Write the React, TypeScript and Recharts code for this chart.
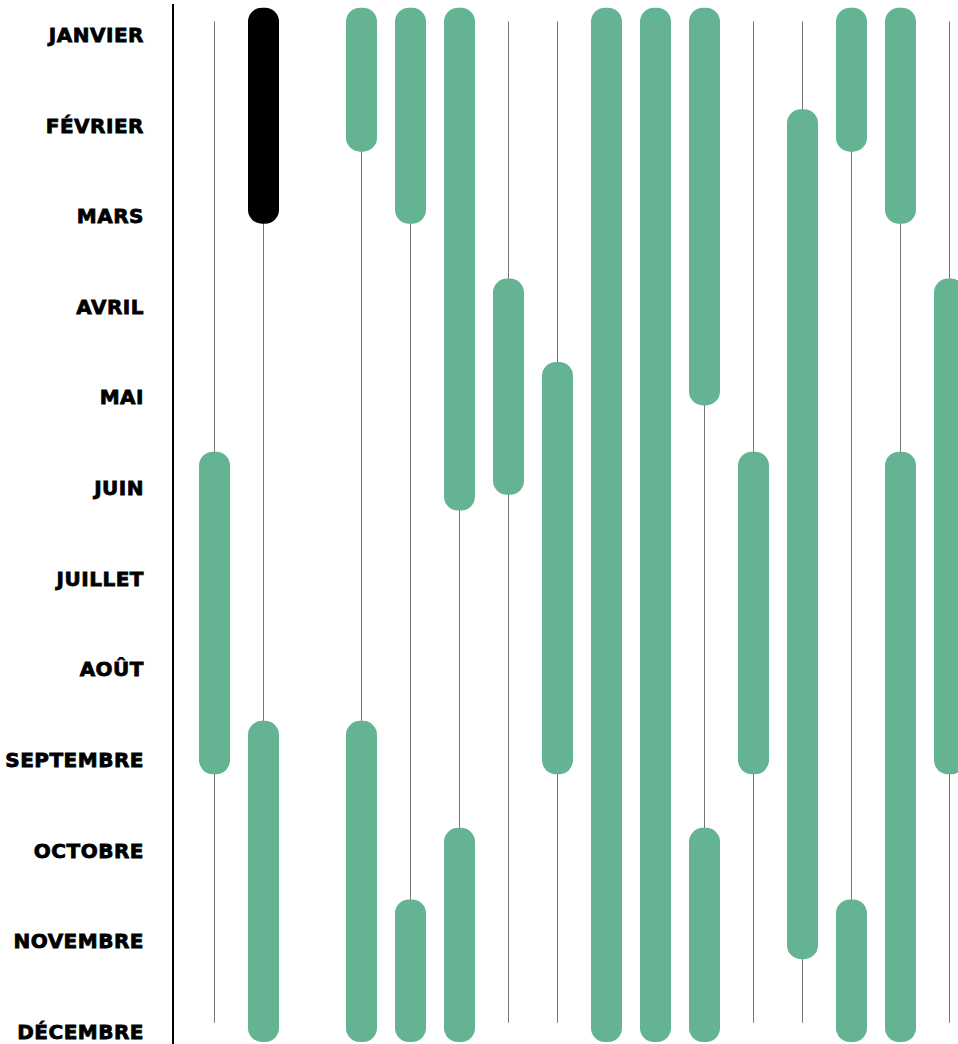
import { BarChart, Bar, XAxis, YAxis, Rectangle } from "recharts";

// month labels, value 1 = JANVIER ... 12 = DÉCEMBRE
const MONTHS = [
  "JANVIER", "FÉVRIER", "MARS", "AVRIL", "MAI", "JUIN",
  "JUILLET", "AOÛT", "SEPTEMBRE", "OCTOBRE", "NOVEMBRE", "DÉCEMBRE",
];
const MONTH_TICKS = [1, 2, 3, 4, 5, 6, 7, 8, 9, 10, 11, 12];

// one column per item, "gap" is an empty slot
const COLUMNS = [
  "c1", "c2", "gap", "c3", "c4", "c5", "c6", "c7",
  "c8", "c9", "c10", "c11", "c12", "c13", "c14", "c15",
];

type Range = [number, number] | null;

// first period of each column (month position, start / end)
const FIRST_PERIOD: Range[] = [
  [5.6, 9.16],
  [0.7, 3.085],
  null,
  [0.7, 2.29],
  [0.7, 3.085],
  [0.7, 6.25],
  [3.69, 6.075],
  [4.61, 9.16],
  [0.7, 12.115],
  [0.7, 12.115],
  [0.7, 5.09],
  [5.6, 9.16],
  [1.82, 11.2],
  [0.7, 2.29],
  [0.7, 3.085],
  [3.69, 9.16],
];

// second period (after the summer break)
const SECOND_PERIOD: Range[] = [
  null,
  [8.57, 12.115],
  null,
  [8.57, 12.115],
  [10.54, 12.115],
  [9.75, 12.115],
  null,
  null,
  null,
  null,
  [9.75, 12.115],
  null,
  null,
  [10.54, 12.115],
  [5.6, 12.115],
  null,
];

const GUIDE_RANGE: [number, number] = [0.85, 11.9];
const HIGHLIGHTED = "c2";

const GREEN = "#64b494";

const rows = COLUMNS.map((id, i) => ({
  id,
  guide: id === "gap" ? null : GUIDE_RANGE,
  first: FIRST_PERIOD[i],
  second: SECOND_PERIOD[i],
}));

const pill = (key: "first" | "second" | "guide") => (props: any) => {
  const p = props.payload;
  if (!p || !p[key]) return <g />;
  if (key === "guide") {
    return <Rectangle x={props.x} y={props.y} width={props.width} height={props.height} fill="#777" />;
  }
  const fill = key === "first" && p.id === HIGHLIGHTED ? "#000" : GREEN;
  return (
    <Rectangle
      x={props.x}
      y={props.y}
      width={props.width}
      height={props.height}
      radius={14}
      fill={fill}
    />
  );
};

const xPad = { left: 17, right: 0 };

export default function App() {
  return (
    <div style={{ width: 958, height: 1044, overflow: "hidden", background: "#fff" }}>
      <style>{"body{margin:0;overflow:hidden}"}</style>
      <BarChart
        width={974}
        height={1077}
        data={rows}
        margin={{ top: 4, right: 0, bottom: 0, left: 0 }}
      >
        <XAxis xAxisId="g" dataKey="id" type="category" hide padding={xPad} />
        <XAxis xAxisId="a" dataKey="id" type="category" hide padding={xPad} />
        <XAxis xAxisId="b" dataKey="id" type="category" hide padding={xPad} />
        <YAxis
          type="number"
          domain={[0.66, 12.5]}
          reversed
          allowDataOverflow
          ticks={MONTH_TICKS}
          interval={0}
          width={173}
          tickSize={0}
          tickMargin={29}
          tickLine={false}
          axisLine={{ stroke: "#000", strokeWidth: 2 }}
          tickFormatter={(v: number) => MONTHS[v - 1]}
          tick={{
            fill: "#000",
            stroke: "#000",
            strokeWidth: 0.8,
            fontSize: 20,
            fontWeight: 700,
            fontFamily: "DejaVu Sans",
            letterSpacing: 0.5,
          }}
        />
        <Bar xAxisId="g" dataKey="guide" barSize={1} shape={pill("guide")} isAnimationActive={false} />
        <Bar xAxisId="a" dataKey="first" barSize={31} shape={pill("first")} isAnimationActive={false} />
        <Bar xAxisId="b" dataKey="second" barSize={31} shape={pill("second")} isAnimationActive={false} />
      </BarChart>
    </div>
  );
}
